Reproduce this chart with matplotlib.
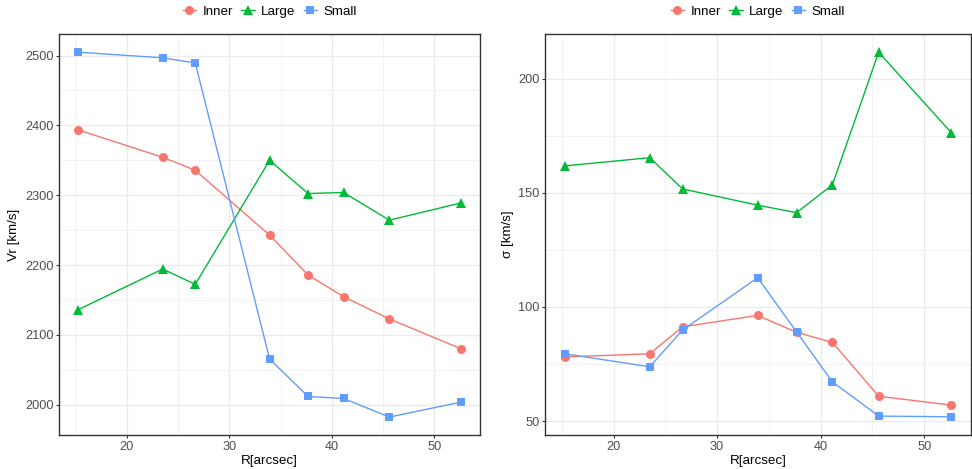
import matplotlib
matplotlib.use("Agg")
import matplotlib.pyplot as plt
from matplotlib.ticker import MultipleLocator

plt.rcParams['font.family'] = ['Liberation Sans', 'DejaVu Sans']

R = [15.28, 23.5, 26.67, 33.92, 37.67, 41.13, 45.6, 52.6]

vr_inner = [2393.4, 2354.3, 2335.7, 2242.9, 2185.7, 2154.7, 2122.9, 2080.0]
vr_large = [2136.3, 2194.3, 2172.4, 2350.0, 2302.4, 2303.9, 2264.3, 2289.0]
vr_small = [2504.7, 2496.7, 2489.5, 2065.5, 2011.9, 2009.0, 1982.4, 2003.8]

sig_inner = [78.1, 79.5, 91.3, 96.3, 88.9, 84.5, 60.9, 57.0]
sig_large = [161.8, 165.4, 151.7, 144.6, 141.3, 153.5, 211.6, 176.4]
sig_small = [79.5, 73.8, 89.9, 112.8, 89.1, 67.2, 52.2, 51.9]

series_names = ["Inner", "Large", "Small"]
colors = ["#F8766D", "#00BA38", "#619CFF"]
markers = ["o", "^", "s"]

W, H = 972, 469
fig = plt.figure(figsize=(W / 100, H / 100), dpi=100)

def px_axes(x0, y0, x1, y1):
    return fig.add_axes([x0 / W, 1 - y1 / H, (x1 - x0) / W, (y1 - y0) / H])

ax1 = px_axes(59.3, 34, 480.3, 435.3)
ax2 = px_axes(545.3, 34, 970.5, 435.0)

def draw(ax, data, ylabel, ymajor, yminor):
    ax.set_facecolor("white")
    for name, vals, c, m in zip(series_names, data, colors, markers):
        ax.plot(R, vals, color=c, marker=m, markersize=6.5 if m != "s" else 6,
                linewidth=1.0, label=name, markeredgewidth=0, zorder=3)
    ax.margins(x=0.05, y=0.05)
    ax.xaxis.set_major_locator(MultipleLocator(10))
    ax.xaxis.set_minor_locator(MultipleLocator(5))
    ax.yaxis.set_major_locator(MultipleLocator(ymajor))
    ax.yaxis.set_minor_locator(MultipleLocator(yminor))
    ax.grid(which="major", color="#EBEBEB", linewidth=1.0, zorder=0)
    ax.grid(which="minor", color="#F2F2F2", linewidth=0.7, zorder=0)
    ax.set_axisbelow(True)
    for s in ax.spines.values():
        s.set_color("#333333")
        s.set_linewidth(1.0)
    ax.tick_params(which="major", length=2.5, width=0.8, color="#333333",
                   labelcolor="#4D4D4D", labelsize=9.2, pad=1.5)
    ax.tick_params(which="minor", length=0)
    ax.set_xlabel("R[arcsec]", fontsize=9.6, color="black", labelpad=1.5)
    ax.set_ylabel(ylabel, fontsize=9.6, color="black", labelpad=3.5)
    ax.legend(loc="lower center", bbox_to_anchor=(0.5, 1.04), ncol=3,
              frameon=False, fontsize=9.6, handlelength=1.0,
              handletextpad=0.5, columnspacing=0.6, borderpad=0,
              borderaxespad=0)

draw(ax1, [vr_inner, vr_large, vr_small], "Vr [km/s]", 100, 50)
draw(ax2, [sig_inner, sig_large, sig_small], "σ [km/s]", 50, 25)

fig.savefig("out.png", dpi=100, facecolor="white")
